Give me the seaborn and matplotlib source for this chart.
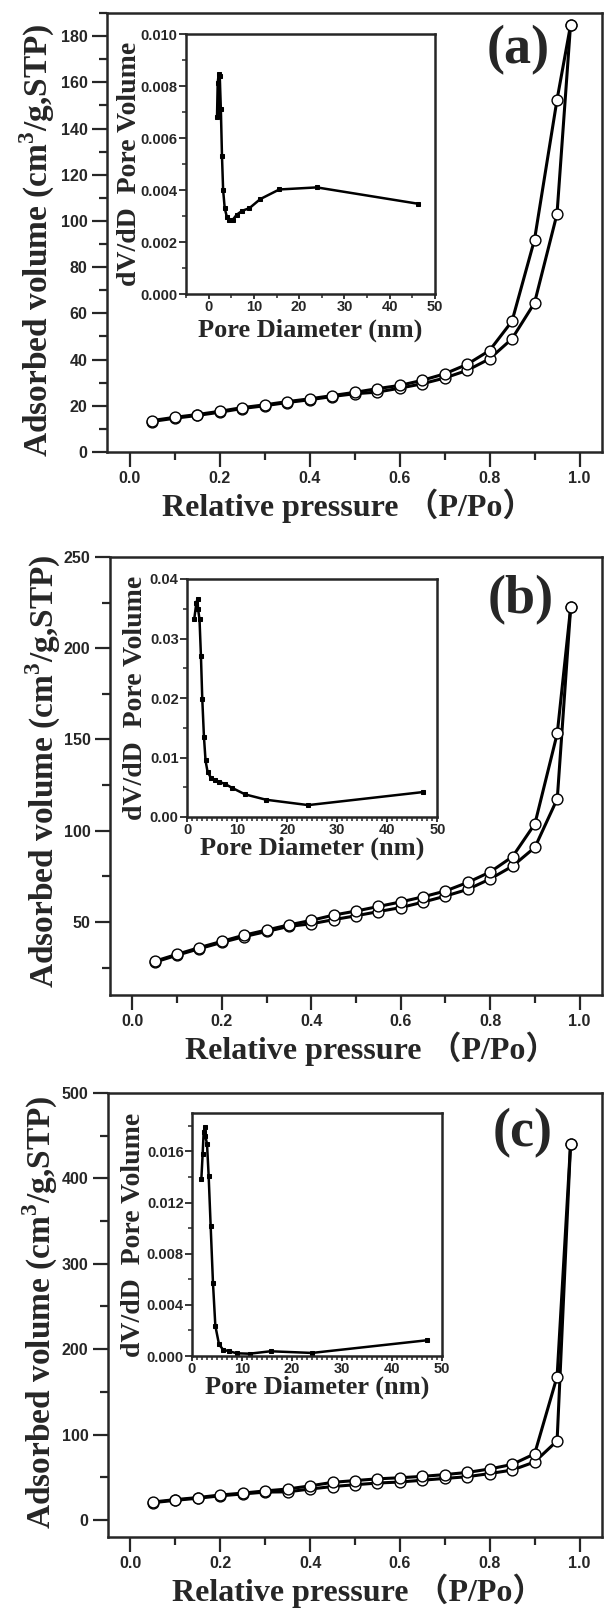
import numpy as np
import pandas as pd
import matplotlib
matplotlib.use("Agg")
import matplotlib.pyplot as plt
from matplotlib.ticker import MultipleLocator, FormatStrFormatter
import seaborn as sns

# ---------------- data ----------------
p_rel = [0.05, 0.10, 0.15, 0.20, 0.25, 0.30, 0.35, 0.40, 0.45, 0.50,
         0.55, 0.60, 0.65, 0.70, 0.75, 0.80, 0.85, 0.90, 0.95, 0.98]

# (a)
ads_a = [13.2, 14.6, 15.8, 17.2, 18.8, 20.0, 21.4, 22.6, 24.0, 25.2,
         25.9, 27.6, 29.5, 32.0, 35.3, 40.3, 49.0, 64.5, 103.0, 184.6]
des_a = [13.6, 15.0, 16.2, 17.6, 19.2, 20.4, 21.8, 23.0, 24.4, 25.8,
         27.4, 28.8, 31.0, 33.8, 37.9, 43.9, 56.6, 91.9, 152.4, 184.6]
# (b)
ads_b = [28.0, 31.8, 35.4, 38.8, 42.0, 44.8, 47.6, 49.0, 51.3, 53.4,
         55.7, 57.9, 60.9, 64.2, 67.9, 73.6, 80.6, 90.9, 117.5, 222.6]
des_b = [28.5, 32.3, 36.0, 39.4, 42.8, 45.6, 48.4, 50.9, 53.8, 56.0,
         58.5, 61.0, 63.8, 67.0, 71.7, 77.4, 85.8, 103.8, 153.4, 222.6]
# (c)
ads_c = [20.2, 23.0, 25.4, 28.2, 30.4, 32.6, 32.9, 36.2, 39.1, 41.2,
         43.2, 44.4, 46.5, 48.6, 50.6, 54.3, 58.4, 67.9, 92.6, 440.3]
des_c = [21.0, 23.8, 26.2, 29.2, 31.4, 34.0, 36.2, 39.9, 44.0, 46.1,
         48.1, 49.4, 51.0, 53.1, 55.6, 59.7, 65.0, 77.4, 167.9, 440.3]

# insets: pore size distribution
d_a = [1.85, 2.0, 2.2, 2.3, 2.45, 2.7, 2.95, 3.2, 3.55, 4.05, 4.6, 5.3,
       6.2, 7.4, 9.0, 11.4, 15.6, 23.9, 46.3]
v_a = [0.0068, 0.0081, 0.00845, 0.00685, 0.0084, 0.0071, 0.0053, 0.0040,
       0.0033, 0.00295, 0.00285, 0.00285, 0.00305, 0.0032, 0.0033, 0.00365,
       0.00402, 0.0041, 0.00347]

d_b = [1.45, 1.85, 2.1, 2.2, 2.5, 2.78, 3.05, 3.38, 3.7, 4.1, 4.77, 5.5,
       6.4, 7.5, 9.0, 11.6, 15.8, 24.2, 47.2]
v_b = [0.0333, 0.0359, 0.0367, 0.0350, 0.0332, 0.0271, 0.0198, 0.0135,
       0.0095, 0.0076, 0.0066, 0.0062, 0.0059, 0.0056, 0.0049, 0.0038,
       0.0029, 0.0020, 0.0042]

d_c = [1.87, 2.13, 2.33, 2.55, 2.65, 3.0, 3.33, 3.73, 4.2, 4.67, 5.4, 6.2,
       7.4, 9.0, 11.5, 15.7, 24.0, 47.0]
v_c = [0.01383, 0.0158, 0.0175, 0.0179, 0.0172, 0.0166, 0.0141, 0.01017,
       0.00567, 0.00235, 0.00092, 0.0005, 0.00037, 0.00021, 0.00018,
       0.00037, 0.00024, 0.00123]

panel_labels = ["(a)", "(b)", "(c)"]
main_ylims = [(0, 190), (10, 250), (-20, 500)]
main_ymajor = [20, 50, 100]
inset_xlims = [(-5, 50), (0, 50), (0, 50)]
inset_ylims = [(0, 0.010), (0, 0.04), (0, 0.019)]
inset_ymajor = [0.002, 0.01, 0.004]
inset_fmt = ["%.3f", "%.2f", "%.3f"]

# ---------------- style ----------------
sns.set_theme(style="ticks")
plt.rcParams["font.family"] = ["Liberation Sans", "DejaVu Sans"]
plt.rcParams["mathtext.fontset"] = "custom"
plt.rcParams["mathtext.rm"] = "Liberation Serif"
plt.rcParams["mathtext.bf"] = "Liberation Serif:bold"
plt.rcParams["axes.linewidth"] = 1.8

serif = ["Liberation Serif", "Noto Sans CJK SC", "DejaVu Serif"]

fig = plt.figure(figsize=(6.05, 16.11), dpi=100)

W, H = 605.0, 1611.0
main_boxes = [(107, 602, 13, 452), (110, 602, 557, 995), (108, 602, 1093, 1537)]
inset_boxes = [(186, 435, 34, 294), (187, 437.5, 579, 817), (192, 442, 1113, 1356)]
label_pos = [(0.83, 0.915), (0.835, 0.902), (0.84, 0.91)]
xlab_cx = [348, 371, 358]          # centre of main x label (px)
ylab_cx = [37, 43, 40]             # centre of main y label (px)
ylab_fy = [0.483, 0.51, 0.507]
inset_xlab_dy = [36, 31, 31]       # px below inset bottom
inset_ylab_cx = [129, 135, 133]    # px

ads_all = [ads_a, ads_b, ads_c]
des_all = [des_a, des_b, des_c]
d_all = [d_a, d_b, d_c]
v_all = [v_a, v_b, v_c]

for i in range(3):
    l, r, t, b = main_boxes[i]
    ax = fig.add_axes([l / W, 1 - b / H, (r - l) / W, (b - t) / H])
    df_ads = pd.DataFrame({"p": p_rel, "v": ads_all[i]})
    df_des = pd.DataFrame({"p": p_rel[::-1], "v": des_all[i][::-1]})
    for df in (df_ads, df_des):
        sns.lineplot(data=df, x="p", y="v", ax=ax, sort=False, estimator=None,
                     color="black", linewidth=2.2, marker="o", markersize=7.8,
                     markerfacecolor="white", markeredgecolor="black",
                     markeredgewidth=1.0)
    ax.set_xlim(-0.05, 1.05)
    ax.set_ylim(*main_ylims[i])
    ax.xaxis.set_major_locator(MultipleLocator(0.2))
    ax.xaxis.set_minor_locator(MultipleLocator(0.1))
    ax.xaxis.set_major_formatter(FormatStrFormatter("%.1f"))
    ax.yaxis.set_major_locator(MultipleLocator(main_ymajor[i]))
    ax.yaxis.set_minor_locator(MultipleLocator(main_ymajor[i] / 2))
    ax.tick_params(which="major", direction="out", length=11, width=1.6,
                   labelsize=11.5, pad=3, top=False, right=False)
    ax.tick_params(which="minor", direction="out", length=6, width=1.6,
                   top=False, right=False)
    for lab in ax.get_xticklabels() + ax.get_yticklabels():
        lab.set_fontweight("bold")
    ax.set_xlabel("Relative pressure （P/Po）", fontsize=23, fontweight="bold",
                  family=serif, va="center")
    ax.xaxis.set_label_coords((xlab_cx[i] - l) / (r - l), -54.0 / (b - t))
    ax.set_ylabel(r"Adsorbed volume (cm$^{\mathbf{3}}$/g,STP)", fontsize=24,
                  fontweight="bold", family=serif, va="center")
    ax.yaxis.set_label_coords((ylab_cx[i] - l) / (r - l), ylab_fy[i])
    for s in ax.spines.values():
        s.set_linewidth(1.8)
    ax.text(label_pos[i][0], label_pos[i][1], panel_labels[i], transform=ax.transAxes,
            fontsize=39, fontweight="bold", family=serif, ha="center", va="center")

    # inset
    il, ir, it, ib = inset_boxes[i]
    ins = fig.add_axes([il / W, 1 - ib / H, (ir - il) / W, (ib - it) / H])
    df_in = pd.DataFrame({"D": d_all[i], "V": v_all[i]})
    sns.lineplot(data=df_in, x="D", y="V", ax=ins, sort=False, estimator=None,
                 color="black", linewidth=1.8, marker="s", markersize=3.5,
                 markeredgecolor="black", markerfacecolor="black")
    ins.set_xlim(*inset_xlims[i])
    ins.set_ylim(*inset_ylims[i])
    ins.xaxis.set_major_locator(MultipleLocator(10))
    ins.xaxis.set_minor_locator(MultipleLocator(5 if i == 0 else 1))
    ins.yaxis.set_major_locator(MultipleLocator(inset_ymajor[i]))
    ins.yaxis.set_minor_locator(MultipleLocator(inset_ymajor[i] / 2))
    ins.yaxis.set_major_formatter(FormatStrFormatter(inset_fmt[i]))
    ins.tick_params(axis="y", which="major", direction="out", length=5, width=1.3,
                    labelsize=10.5, pad=1.0)
    ins.tick_params(axis="y", which="minor", direction="out", length=3, width=1.1)
    ins.tick_params(axis="x", which="major", direction="out", length=3.8, width=1.3,
                    labelsize=10.5, pad=0.5)
    ins.tick_params(axis="x", which="minor", direction="out", length=3.0, width=1.1)
    for lab in ins.get_xticklabels() + ins.get_yticklabels():
        lab.set_fontweight("bold")
    ins.set_xlabel("Pore Diameter (nm)", fontsize=19, fontweight="bold",
                   family=serif, va="center")
    ins.xaxis.set_label_coords(0.5, -inset_xlab_dy[i] / (ib - it))
    ins.set_ylabel("dV/dD  Pore Volume", fontsize=20, fontweight="bold",
                   family=serif, va="center")
    ins.yaxis.set_label_coords((inset_ylab_cx[i] - il) / (ir - il), 0.5)
    for s in ins.spines.values():
        s.set_linewidth(1.8)

fig.savefig("out.png", dpi=100, facecolor="white")
